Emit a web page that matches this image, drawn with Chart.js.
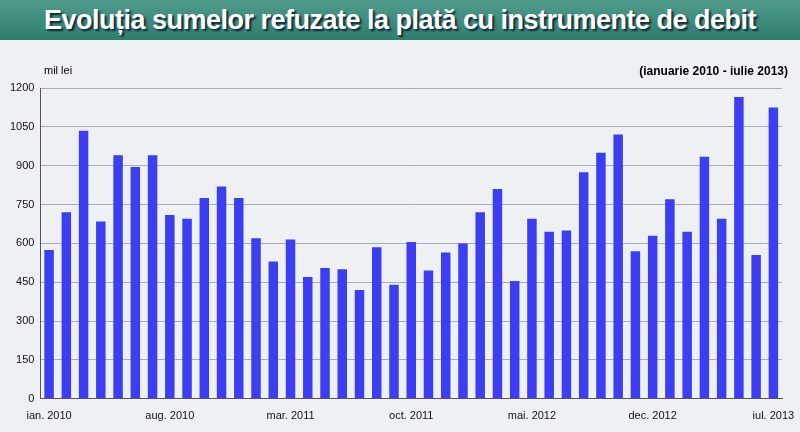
<!DOCTYPE html>
<html>
<head>
<meta charset="utf-8">
<script src="https://cdn.jsdelivr.net/npm/chart.js@4"></script>
<style>
  body { margin: 0; width: 800px; height: 432px; background: #dfe8e6; font-family: "Liberation Sans", Arial, sans-serif; overflow: hidden; }
  #title { height: 40px; background: linear-gradient(#4f9c8c, #2f7d6e); color: #fff; font: bold 27px "Liberation Sans Narrow", "Liberation Sans", sans-serif;
           text-align: center; line-height: 40px; text-shadow: 2px 2px 2px #123; letter-spacing: -0.5px; }
  #wrap { position: relative; width: 800px; height: 392px; background: #eef1f3; }
  #unit { position: absolute; left: 44px; top: 24px; font-size: 11px; }
  #period { position: absolute; right: 12px; top: 24px; font-size: 12px; font-weight: bold; }
</style>
</head>
<body>
<div id="title">Evoluția sumelor refuzate la plată cu instrumente de debit</div>
<div id="wrap">
  <div id="unit">mil lei</div>
  <div id="period">(ianuarie 2010 - iulie 2013)</div>
  <canvas id="grafic" width="800" height="392"></canvas>
</div>
<script>
// ----------- DATE -----------
const luni = ["ian.", "feb.", "mar.", "apr.", "mai.", "iun.", "iul.", "aug.", "sep.", "oct.", "nov.", "dec."];
const categorii = [];
for (let i = 0; i < 43; i++) categorii.push(luni[i % 12] + " " + (2010 + Math.floor(i / 12)));

const valori = [575, 720, 1035, 685, 940, 895, 940, 710, 695, 775, 820, 775,
                620, 530, 615, 470, 505, 500, 420, 585, 440, 605, 495, 565,
                600, 720, 810, 455, 695, 645, 650, 875, 950, 1020, 570, 630,
                770, 645, 935, 695, 1165, 555, 1125];
const yTicks = [0, 150, 300, 450, 600, 750, 900, 1050, 1200];

document.addEventListener("DOMContentLoaded", () => {
  new Chart(document.getElementById("grafic"), {
    type: "bar",
    data: {
      labels: categorii,
      datasets: [{ data: valori, backgroundColor: "#3d3df2", categoryPercentage: 0.55, barPercentage: 1 }]
    },
    options: {
      responsive: false,
      animation: false,
      layout: { padding: { top: 48, right: 18, left: 4, bottom: 6 } },
      plugins: { legend: { display: false }, tooltip: { enabled: false } },
      scales: {
        x: {
          grid: { display: false },
          border: { color: "#555" },
          ticks: {
            color: "#111", font: { size: 11 }, maxRotation: 0, autoSkip: false,
            callback: (v, i) => (i % 7 === 0 ? categorii[i] : "")
          }
        },
        y: {
          min: 0, max: 1200,
          afterBuildTicks: ax => { ax.ticks = yTicks.map(v => ({ value: v })); },
          grid: { color: "#aab", drawTicks: false },
          border: { color: "#555" },
          ticks: { color: "#111", font: { size: 11 }, padding: 6, callback: v => String(v) }
        }
      }
    }
  });
});
</script>
</body>
</html>
